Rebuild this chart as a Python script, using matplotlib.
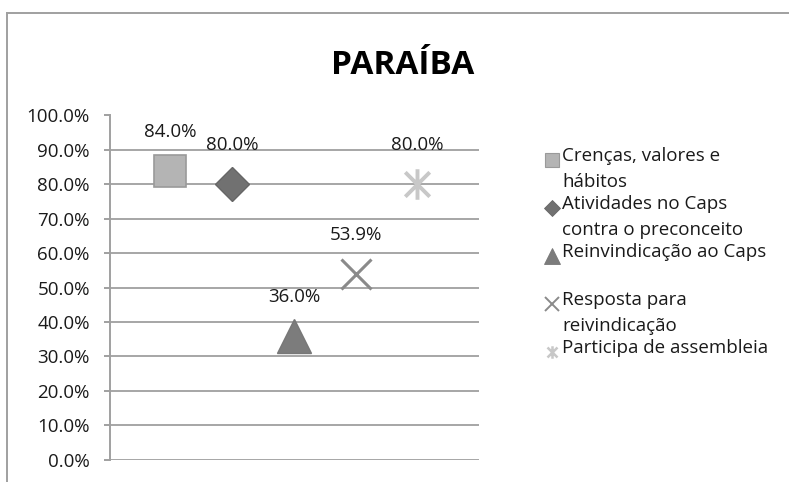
import matplotlib as mpl

mpl.use('agg')
import matplotlib.pyplot as plt
from matplotlib.lines import Line2D
from matplotlib.path import Path

plt.rcParams['font.family'] = ['Open Sans', 'DejaVu Sans']

# data
series = ['Crenças, valores e\nhábitos',
          'Atividades no Caps\ncontra o preconceito',
          'Reinvindicação ao Caps',
          'Resposta para\nreivindicação',
          'Participa de assembleia']
xpos = [1, 2, 3, 4, 5]
values = [84.0, 80.0, 36.0, 53.9, 80.0]
yticks = [0, 10, 20, 30, 40, 50, 60, 70, 80, 90, 100]

# asterisk: vertical bar plus an X
star = Path([(0, -1), (0, 1), (-0.8, -0.8), (0.8, 0.8), (-0.8, 0.8), (0.8, -0.8)],
            [Path.MOVETO, Path.LINETO, Path.MOVETO, Path.LINETO, Path.MOVETO, Path.LINETO])

styles = [
  dict(marker='s', ms=23, mfc='#b4b4b4', mec='#9a9a9a', mew=1.2),
  dict(marker='D', ms=17.5, mfc='#717171', mec='#666666', mew=1.0),
  dict(marker='^', ms=24, mfc='#7c7c7c', mec='#777777', mew=1.0),
  dict(marker='x', ms=22, mfc='none', mec='#8a8a8a', mew=2.2),
  dict(marker=star, ms=22, mfc='none', mec='#c8c8c8', mew=2.8),
]
leg_styles = [
  dict(marker='s', ms=10, mfc='#b4b4b4', mec='#9a9a9a', mew=0.8),
  dict(marker='D', ms=8, mfc='#717171', mec='#666666', mew=0.6),
  dict(marker='^', ms=11, mfc='#7c7c7c', mec='#777777', mew=0.6),
  dict(marker='x', ms=10, mfc='none', mec='#8a8a8a', mew=1.4),
  dict(marker=star, ms=9, mfc='none', mec='#c8c8c8', mew=1.8),
]

fig = plt.figure(figsize=(7.89, 4.82), dpi=100)
ax = fig.add_axes([110 / 789, 22.3 / 482, 369 / 789, 344.2 / 482])

for x, v, st in zip(xpos, values, styles):
  ax.plot([x], [v], linestyle='none', zorder=3, **st)
  ax.annotate('%.1f%%' % v, (x, v), xytext=(0, 28), textcoords='offset points',
              ha='center', va='center', fontsize=13.5, color='#1a1a1a')

ax.set_xlim(0.02, 6.0)
ax.set_ylim(0, 100)
ax.set_yticks(yticks)
ax.set_yticklabels(['%.1f%%' % t for t in yticks], fontsize=13.5, color='#1a1a1a')
ax.set_xticks([])
ax.yaxis.grid(True, color='#a6a6a6', lw=1.4)
ax.set_axisbelow(True)
for s in ['top', 'right', 'bottom']:
  ax.spines[s].set_visible(False)
ax.spines['left'].set_color('#a0a0a0')
ax.spines['left'].set_linewidth(1.4)
ax.tick_params(axis='y', length=4.5, width=1.4, color='#a0a0a0', pad=10)

fig.text(403 / 789, 1 - 74 / 482, 'PARAÍBA', ha='center', va='baseline',
         fontsize=24, fontweight='bold', color='black')

# outer chart border (top and left only are visible)
fig.add_artist(Line2D([7 / 789, 1], [1 - 13 / 482, 1 - 13 / 482], color='#a0a0a0', lw=1.4,
                      transform=fig.transFigure))
fig.add_artist(Line2D([7 / 789, 7 / 789], [0, 1 - 13 / 482], color='#a0a0a0', lw=1.4,
                      transform=fig.transFigure))

# legend, one entry every 48 px, marker on the first line
for i, (lab, st) in enumerate(zip(series, leg_styles)):
  ypx = 160 + 48 * i
  fy = 1 - ypx / 482
  fig.add_artist(Line2D([552 / 789], [fy], linestyle='none', transform=fig.transFigure, **st))
  fig.text(562 / 789, 1 - (ypx - 13) / 482, lab, ha='left', va='top', fontsize=13.5,
           color='#1a1a1a', linespacing=1.55, transform=fig.transFigure)

fig.savefig('out.png', dpi=100)
